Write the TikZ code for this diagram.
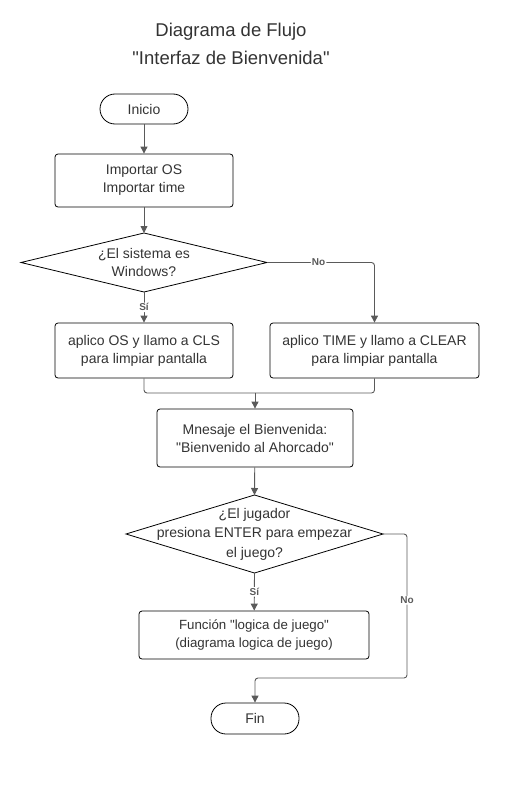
\documentclass[tikz,border=0pt]{standalone}
\usepackage{fontspec}
\setmainfont{Liberation Sans}[Ligatures=TeXOff]
\usetikzlibrary{arrows.meta,shapes.geometric,positioning}
\definecolor{txt}{HTML}{333333}
\definecolor{ln}{HTML}{5A5A5A}
\newcommand\dq{\symbol{34}}
\tikzset{
  x=1pt,y=-1pt,
  every node/.style={font=\fontsize{14}{18}\selectfont,text=txt,align=center},
  proc/.style={draw=black,line width=0.8pt,rounded corners=3pt,inner sep=0pt},
  term/.style={draw=black,line width=0.8pt,rounded corners=15pt,inner sep=0pt},
  conn/.style={draw=ln,line width=0.9pt,rounded corners=3pt,-{Triangle[length=7pt,width=7pt]}},
  lbl/.style={font=\fontsize{10}{12}\selectfont\bfseries,text=ln,fill=white,inner sep=1pt}
}
\begin{document}
\begin{tikzpicture}
\useasboundingbox (0,0) rectangle (508,792);
\node[font=\fontsize{18.5}{28}\selectfont] (title) at (231,44) {Diagrama de Flujo\\\dq Interfaz de Bienvenida\dq};
\node[term,minimum width=88pt,minimum height=30pt] (ini) at (144,109) {Inicio};
\node[proc,minimum width=178pt,minimum height=53pt] (imp) at (144,180.5) {Importar OS\\Importar time};
\draw[line width=0.8pt] (21,262.5) -- (144,233) -- (267,262.5) -- (144,292) -- cycle;
\node (d1) at (144,262.5) {¿El sistema es\\Windows?};
\coordinate (d1t) at (144,233);
\coordinate (d1b) at (144,292);
\coordinate (d1r) at (267,262.5);
\node[proc,minimum width=178pt,minimum height=55pt] (os) at (144,350.5) {aplico OS y llamo a CLS\\para limpiar pantalla};
\node[proc,minimum width=209pt,minimum height=55pt] (tm) at (374.5,350.5) {aplico TIME y llamo a CLEAR\\para limpiar pantalla};
\node[proc,minimum width=196pt,minimum height=58pt] (msg) at (255,438) {Mnesaje el Bienvenida:\\\dq Bienvenido al Ahorcado\dq};
\draw[line width=0.8pt] (126,534) -- (254.5,495) -- (383,534) -- (254.5,573) -- cycle;
\node[font=\fontsize{14}{19.5}\selectfont] (d2) at (254.5,534) {¿El jugador\\presiona ENTER para empezar\\el juego?};
\coordinate (d2t) at (254.5,495);
\coordinate (d2b) at (254.5,573);
\coordinate (d2r) at (383,534);
\node[proc,minimum width=230pt,minimum height=48pt,font=\fontsize{13.3}{18}\selectfont] (fun) at (254,635) {Función \dq logica de juego\dq\\(diagrama logica de juego)};
\node[term,minimum width=88pt,minimum height=31pt] (fin) at (255,718.5) {Fin};
% connectors
\draw[conn] (ini) -- (imp);
\draw[conn] (imp) -- (d1t);
\draw[conn] (d1b) -- node[lbl,pos=0.5]{Sí} (os);
\draw[conn] (d1r) -- node[lbl,pos=0.48]{No} (374.5,262.5) -- (tm.north);
\coordinate (mg) at (255,393);
\draw[draw=ln,line width=0.9pt,rounded corners=3pt] (os.south) |- (mg);
\draw[draw=ln,line width=0.9pt,rounded corners=3pt] (tm.south) |- (mg);
\draw[conn] (mg) -- (msg);
\draw[conn] (msg) -- (d2t);
\draw[conn] (d2b) -- node[lbl,pos=0.5]{Sí} (fun);
\coordinate (nr) at (407,534);
\coordinate (nb) at (407,678);
\draw[conn] (d2r) -- (nr) -- node[lbl,pos=0.46]{No} (nb) -- (255,678) -- (fin);
\end{tikzpicture}
\end{document}
